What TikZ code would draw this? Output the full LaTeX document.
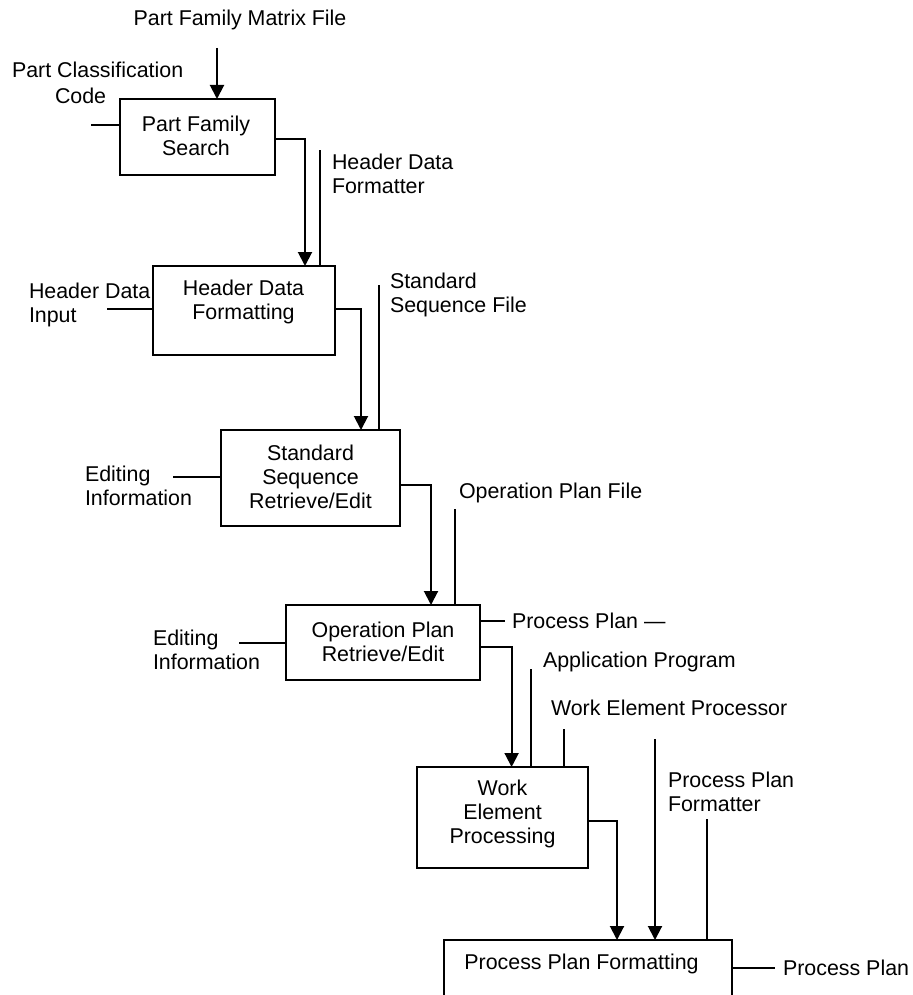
\documentclass[tikz,border=0pt]{standalone}
\usepackage{fontspec}
\setmainfont{Liberation Sans}
\usetikzlibrary{arrows.meta}

\begin{document}
\begin{tikzpicture}[
  x=0.5pt, y=-0.5pt,
  every node/.style={font=\fontsize{10.7}{11.9}\selectfont, inner sep=0pt, outer sep=0pt},
  procbox/.style={draw, line width=1pt, rectangle},
  lbl/.style={anchor=west, align=left},
  boxtext/.style={align=center},
  wire/.style={line width=1pt},
  flow/.style={line width=1pt, -{Triangle[length=7pt,width=7pt]}},
]
\useasboundingbox (0,0) rectangle (913,995);
\clip (0,0) rectangle (913,995);

% process boxes
\node[procbox, minimum width=77.5pt, minimum height=38pt]   (b1) at (197.5,137)  {};
\node[procbox, minimum width=91pt,   minimum height=44.5pt] (b2) at (244,310.5)  {};
\node[procbox, minimum width=89.5pt, minimum height=48pt]   (b3) at (310.5,478)  {};
\node[procbox, minimum width=97pt,   minimum height=37.5pt] (b4) at (383,642.5)  {};
\node[procbox, minimum width=85.5pt, minimum height=50.5pt] (b5) at (502.5,817.5) {};
\node[procbox, minimum width=144pt,  minimum height=30pt]   (b6) at (588,970)    {};

% box titles
\node[boxtext] (b1t) at (196,136)   {Part Family\\Search};
\node[boxtext] (b2t) at (243.5,302) {Header Data\\Formatting};
\node[boxtext] (b3t) at (310.5,477) {Standard\\Sequence\\Retrieve/Edit};
\node[boxtext] (b4t) at (383,642)   {Operation Plan\\Retrieve/Edit};
\node[boxtext] (b5t) at (502.5,814) {Work\\Element\\Processing};
\node[boxtext] (b6t) at (581.5,964) {Process Plan Formatting};

% inputs, controls and outputs
\node (tPFM) at (240,20) {Part Family Matrix File};
\node[lbl] (tPCC1) at (12,70) {Part Classification};
\node[lbl] (tPCC2) at (55,96) {Code};
\node[lbl] (tHDF) at (332,173.5) {Header Data\\Formatter};
\node[lbl] (tHDI) at (29,305) {Header Data\\Input};
\node[lbl] (tSSF) at (390,295) {Standard\\Sequence File};
\node[lbl] (tEI1) at (85,486) {Editing\\Information};
\node[lbl] (tOPF) at (459,493) {Operation Plan File};
\node[lbl] (tPP1) at (512,621) {Process Plan —};
\node[lbl] (tEI2) at (153,650) {Editing\\Information};
\node[lbl] (tAP) at (543,662) {Application Program};
\node[lbl] (tWEP) at (551,708) {Work Element Processor};
\node[lbl] (tPPF) at (668,791.5) {Process Plan\\Formatter};
\node[lbl] (tPPo) at (783,968) {Process Plan};

% free line ends and drop columns
\coordinate (pfm)  at (217,48);
\coordinate (pcc)  at (91,125);
\coordinate (d12)  at (305,0);
\coordinate (hdf)  at (320,150);
\coordinate (hdi)  at (107,309);
\coordinate (d23)  at (361,0);
\coordinate (ssf)  at (378.6,285);
\coordinate (ei1)  at (173,477);
\coordinate (d34)  at (431,0);
\coordinate (opf)  at (455,509);
\coordinate (pp1)  at (505,621);
\coordinate (ei2)  at (239,643);
\coordinate (d45)  at (511.6,0);
\coordinate (ap)   at (531,669);
\coordinate (wep1) at (564,729);
\coordinate (wep2) at (655,739);
\coordinate (d56)  at (617,0);
\coordinate (ppf)  at (707,819);
\coordinate (ppo)  at (775,968);

% connectors
\draw[flow] (pfm) -- (pfm |- b1.north);
\draw[wire] (pcc) -- (pcc -| b1.west);
\draw[flow] ([yshift=-1pt]b1.east) -| (d12 |- b2.north);
\draw[wire] (hdf) -- (hdf |- b2.north);
\draw[wire] (hdi) -- (hdi -| b2.west);
\draw[flow] ([yshift=0.75pt]b2.east) -| (d23 |- b3.north);
\draw[wire] (ssf) -- (ssf |- b3.north);
\draw[wire] (ei1) -- (ei1 -| b3.west);
\draw[flow] ([yshift=-3.5pt]b3.east) -| (d34 |- b4.north);
\draw[wire] (opf) -- (opf |- b4.north);
\draw[wire] (pp1 -| b4.east) -- (pp1);
\draw[wire] (ei2) -- (ei2 -| b4.west);
\draw[flow] ([yshift=-2.25pt]b4.east) -| (d45 |- b5.north);
\draw[wire] (ap) -- (ap |- b5.north);
\draw[wire] (wep1) -- (wep1 |- b5.north);
\draw[flow] (wep2) -- (wep2 |- b6.north);
\draw[flow] ([yshift=-1.75pt]b5.east) -| (d56 |- b6.north);
\draw[wire] (ppf) -- (ppf |- b6.north);
\draw[wire] (ppo -| b6.east) -- (ppo);
\end{tikzpicture}
\end{document}
